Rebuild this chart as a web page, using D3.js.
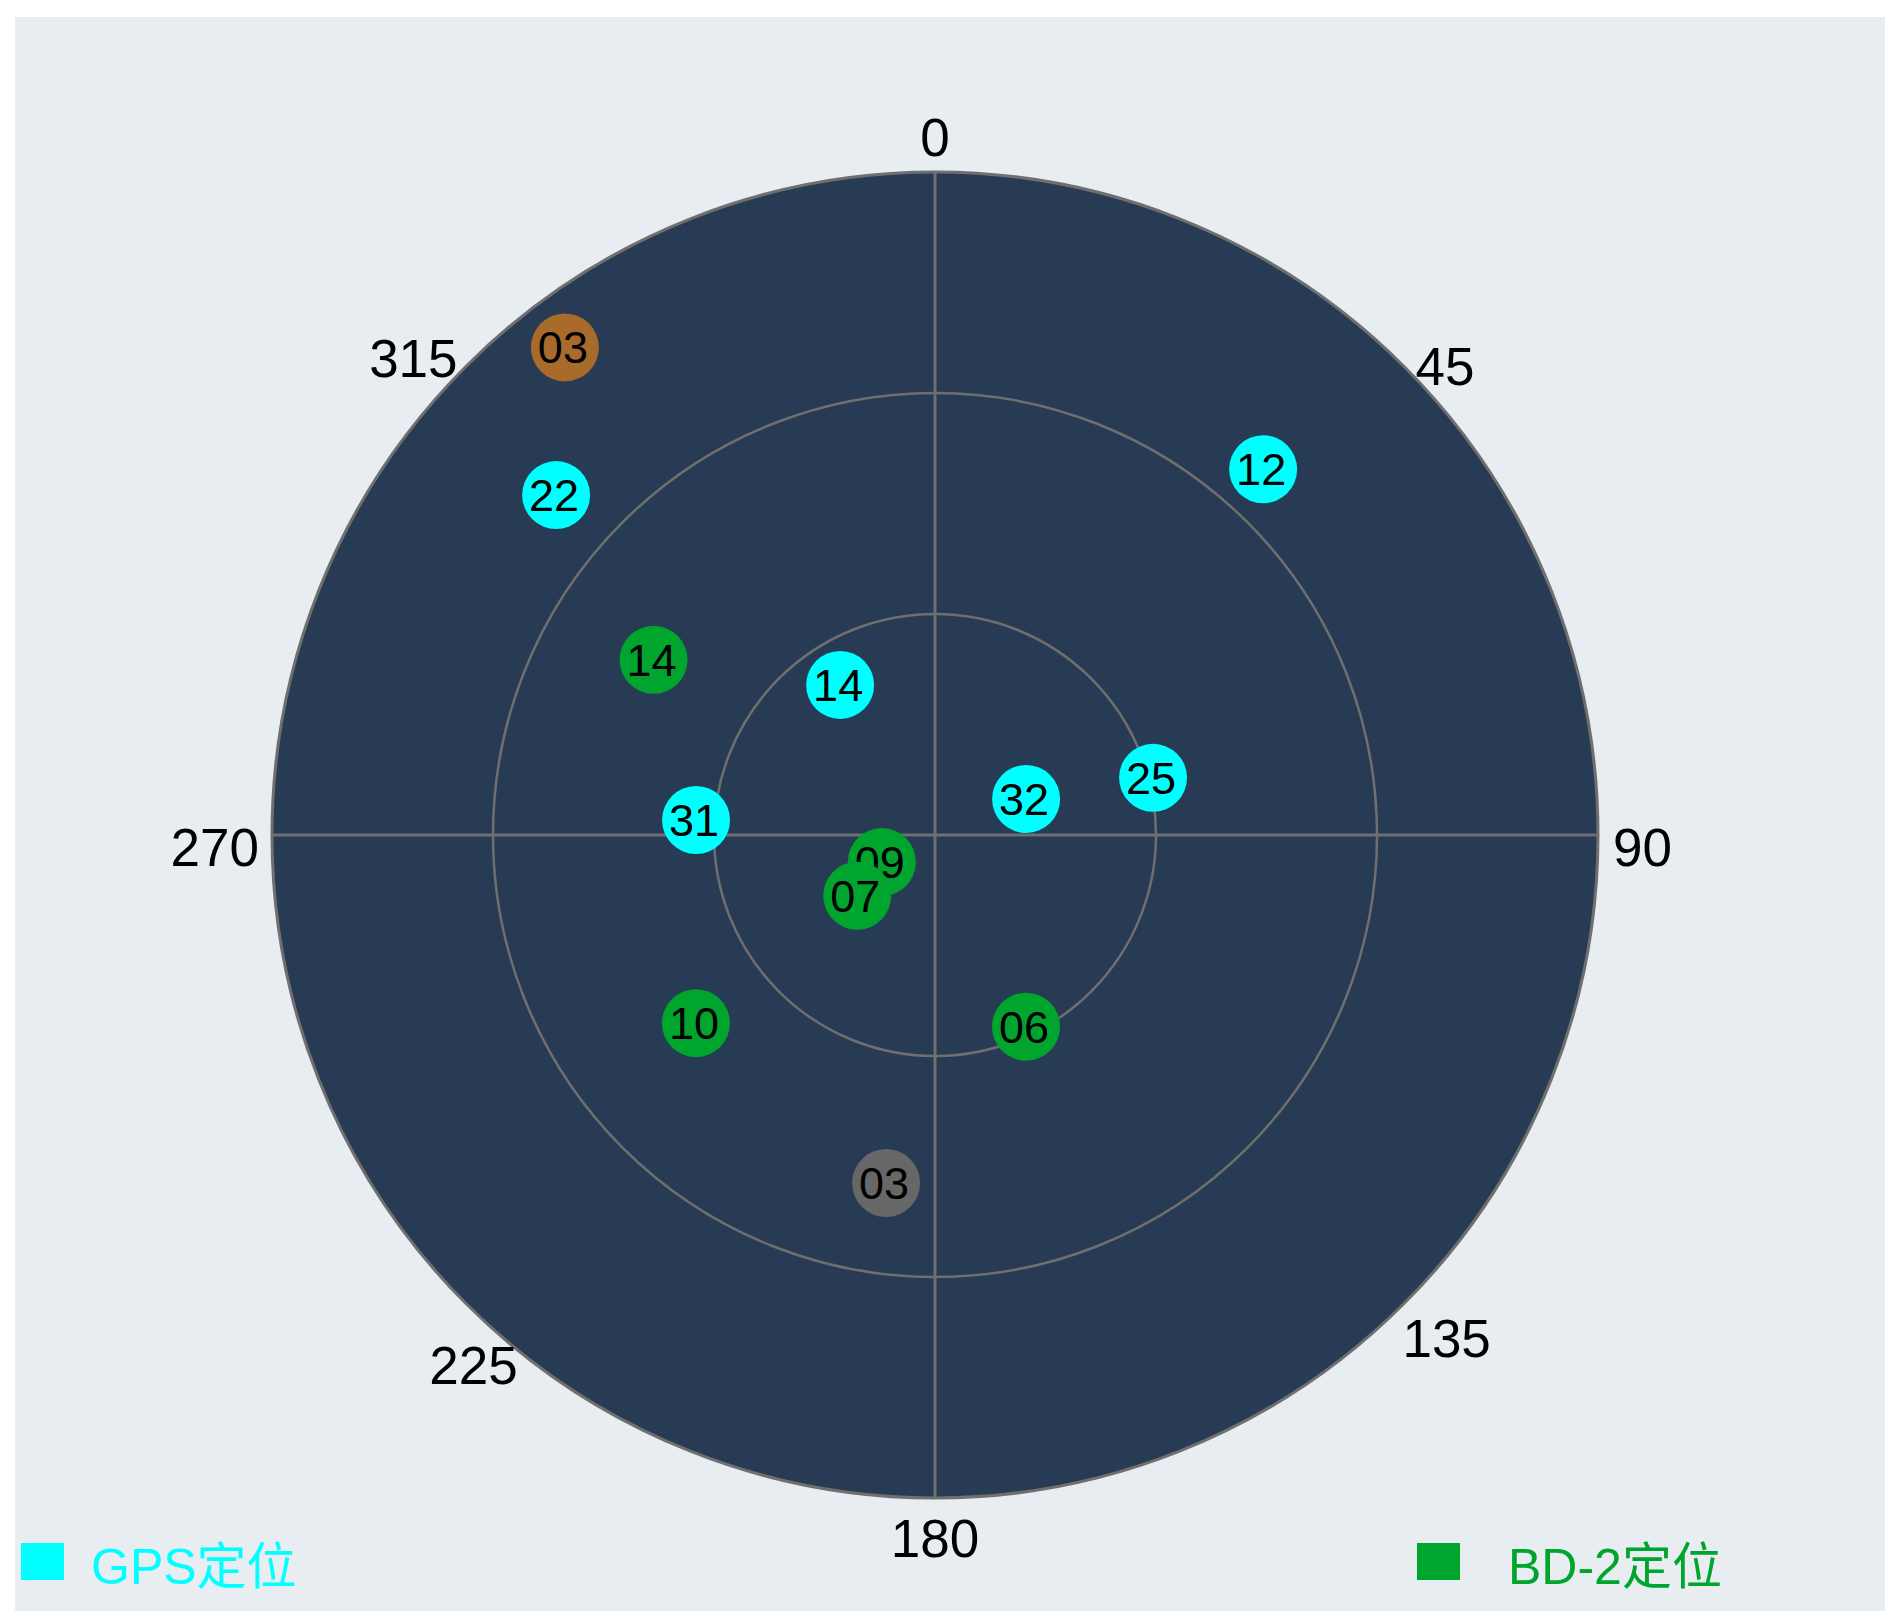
<!DOCTYPE html>
<html>
<head>
<meta charset="utf-8">
<script src="https://cdn.jsdelivr.net/npm/d3@7/dist/d3.min.js"></script>
<style>
  html, body { margin: 0; padding: 0; background: #ffffff; }
  svg { display: block; }
</style>
</head>
<body>
<script>
// ---------- data ----------
const azimuthTicks = [0, 45, 90, 135, 180, 225, 270, 315];
const elevationRings = [60, 30];

// GPS satellites
const gpsPrn = ["12", "25", "32", "14", "31", "22"];
const gpsAz  = [41.9, 75.3, 68.4, 327.7, 273.6, 311.9];
const gpsEl  = [23.3, 59.4, 76.7, 65.9, 57.5, 20.9];

// BD-2 satellites (drawing order: 09 under 07)
const bdPrn = ["14", "09", "07", "10", "06"];
const bdAz  = [301.9, 243.0, 232.0, 231.8, 154.6];
const bdEl  = [45.0, 81.9, 76.6, 48.7, 61.2];

// other satellites (no legend entry)
const otherPrn    = ["03", "03"];
const otherAz     = [322.8, 188.0];
const otherEl     = [6.9, 42.3];
const otherStatus = ["brown", "gray"];

const legendLabels = ["GPS定位", "BD-2定位"];

// ---------- layout ----------
const W = 1904, H = 1623;
const cx = 935, cy = 835, R = 663;
const colors = { gps: "#00ffff", bd: "#00a52e", brown: "#a86b2b", gray: "#676767" };
const grid = "#6f6f6f";

const svg = d3.select("body").append("svg").attr("width", W).attr("height", H);

svg.append("rect").attr("x", 15).attr("y", 17).attr("width", 1870).attr("height", 1594)
  .attr("fill", "#e8edf1");

const rScale = d3.scaleLinear().domain([90, 0]).range([0, R]);
const ang = d3.scaleLinear().domain([0, 360]).range([0, 2 * Math.PI]);
function polar(az, r) {
  const a = ang(az);
  return [cx + r * Math.sin(a), cy - r * Math.cos(a)];
}

const g = svg.append("g");
g.append("circle").attr("cx", cx).attr("cy", cy).attr("r", rScale(0))
  .attr("fill", "#283b54").attr("stroke", grid).attr("stroke-width", 3);

g.selectAll("circle.ring").data(elevationRings).enter().append("circle")
  .attr("class", "ring").attr("cx", cx).attr("cy", cy).attr("r", d => rScale(d))
  .attr("fill", "none").attr("stroke", grid).attr("stroke-width", 2.5);

// crosshair
[[0, 180], [90, 270]].forEach(([a1, a2]) => {
  const p1 = polar(a1, rScale(0)), p2 = polar(a2, rScale(0));
  g.append("line").attr("x1", p1[0]).attr("y1", p1[1]).attr("x2", p2[0]).attr("y2", p2[1])
    .attr("stroke", grid).attr("stroke-width", 3);
});

// azimuth labels
const labelLayout = {
  0:   { anchor: "middle", dx: 0,   dy: -1 },
  45:  { anchor: "start",  dx: 1,   dy: 29 },
  90:  { anchor: "start",  dx: 0,   dy: 31 },
  135: { anchor: "start",  dx: -12, dy: 43 },
  180: { anchor: "middle", dx: 0,   dy: 44 },
  225: { anchor: "middle", dx: 18,  dy: 70 },
  270: { anchor: "end",    dx: 2,   dy: 31 },
  315: { anchor: "end",    dx: 2,   dy: 21 }
};
const rLab = rScale(0) + 15;
svg.selectAll("text.az").data(azimuthTicks).enter().append("text")
  .attr("class", "az")
  .attr("x", d => polar(d, rLab)[0] + labelLayout[d].dx)
  .attr("y", d => polar(d, rLab)[1] + labelLayout[d].dy)
  .attr("text-anchor", d => labelLayout[d].anchor)
  .attr("font-family", "'Liberation Sans', Arial, sans-serif")
  .attr("font-size", 53)
  .attr("fill", "#000")
  .text(d => d);

// satellites
function buildSats(prn, az, el, colorFn) {
  return prn.map((p, i) => ({ prn: p, az: az[i], el: el[i], color: colorFn(i) }));
}
const sats = []
  .concat(buildSats(otherPrn, otherAz, otherEl, i => colors[otherStatus[i]]))
  .concat(buildSats(gpsPrn, gpsAz, gpsEl, () => colors.gps))
  .concat(buildSats(bdPrn, bdAz, bdEl, () => colors.bd));

const sg = svg.selectAll("g.sat").data(sats).enter().append("g").attr("class", "sat")
  .attr("transform", d => { const p = polar(d.az, rScale(d.el)); return `translate(${p[0]},${p[1]})`; });
sg.append("circle").attr("r", 34).attr("fill", d => d.color);
sg.append("text").attr("x", -2).attr("y", 16)
  .attr("text-anchor", "middle")
  .attr("font-family", "'Liberation Sans', Arial, sans-serif")
  .attr("font-size", 45).attr("fill", "#000")
  .text(d => d.prn);

// legend
const legendColors = [colors.gps, colors.bd];
const legendX = [21, 1417];
const lg = svg.selectAll("g.leg").data(legendLabels).enter().append("g").attr("class", "leg");
lg.append("rect").attr("x", (d, i) => legendX[i]).attr("y", 1543)
  .attr("width", 43).attr("height", 37).attr("fill", (d, i) => legendColors[i]);
lg.append("text").attr("x", (d, i) => legendX[i] + (i === 0 ? 70 : 91)).attr("y", 1584)
  .attr("font-family", "'Liberation Sans', 'Noto Sans CJK SC', sans-serif")
  .attr("font-size", 50).attr("fill", (d, i) => legendColors[i])
  .text(d => d);
</script>
</body>
</html>
